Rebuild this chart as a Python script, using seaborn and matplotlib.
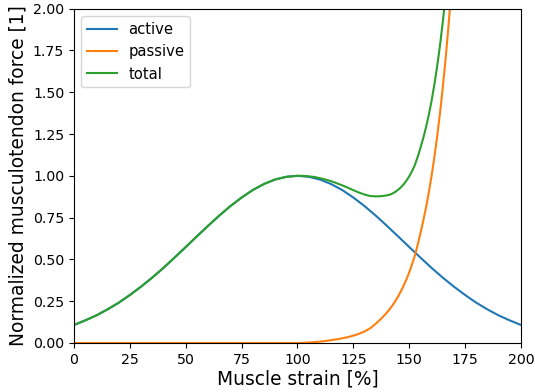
import matplotlib
matplotlib.use("Agg")
import matplotlib.pyplot as plt
import seaborn as sns

# Muscle strain samples [%]
strain_active = [0, 5, 10, 15, 20, 25, 30, 35, 40, 45, 50, 55, 60, 65, 70, 75, 80, 85, 90, 95,
                 100, 105, 110, 115, 120, 125, 130, 135, 140, 145, 150, 155, 160, 165, 170, 175,
                 180, 185, 190, 195, 200]
strain_pt = [0, 5, 10, 15, 20, 25, 30, 35, 40, 45, 50, 55, 60, 65, 70, 75, 80, 85, 90, 95,
             100, 102.5, 105, 107.5, 110, 112.5, 115, 117.5, 120, 122.5, 125, 127.5, 130, 132.5,
             135, 137.5,
             140, 141.25, 142.5, 143.75, 145, 146.25, 147.5, 148.75, 150, 151.25, 152.5, 153.75,
             155, 156.25, 157.5, 158.75, 160, 161.25, 162.5, 163.75, 165, 166.25, 167.5, 168.75,
             170, 171.25, 172.5]

# Normalized force components [1]
active = [0.108, 0.135, 0.165, 0.201, 0.241, 0.287, 0.337, 0.391, 0.449, 0.511, 0.574, 0.638,
          0.701, 0.762, 0.819, 0.870, 0.915, 0.951, 0.978, 0.994, 1.000, 0.994, 0.978, 0.951,
          0.915, 0.870, 0.819, 0.762, 0.701, 0.638, 0.574, 0.511, 0.449, 0.391, 0.337, 0.287,
          0.241, 0.201, 0.165, 0.135, 0.108]
passive = [0.0] * 20 + [0.000, 0.001, 0.003, 0.005, 0.008, 0.012, 0.017, 0.022, 0.028, 0.035,
                        0.044, 0.055, 0.069, 0.088, 0.115, 0.146,
                        0.182, 0.202, 0.225, 0.250, 0.278, 0.309, 0.343, 0.381, 0.423, 0.470,
                        0.522, 0.586, 0.655, 0.730, 0.810, 0.900, 1.000, 1.112, 1.236, 1.374,
                        1.527, 1.697, 1.886, 2.096, 2.330, 2.590, 2.880]
total = [0.108, 0.135, 0.165, 0.201, 0.241, 0.287, 0.337, 0.391, 0.449, 0.511, 0.574, 0.638,
         0.701, 0.762, 0.819, 0.870, 0.915, 0.951, 0.978, 0.994,
         1.000, 1.000, 0.997, 0.993, 0.986, 0.978, 0.968, 0.956, 0.943, 0.929, 0.914, 0.900,
         0.888, 0.879, 0.877, 0.878,
         0.883, 0.887, 0.894, 0.904, 0.916, 0.931, 0.949, 0.971, 0.997, 1.028, 1.064, 1.112,
         1.166, 1.225, 1.290, 1.364, 1.449, 1.546, 1.656, 1.779, 1.918, 2.074, 2.249, 2.446,
         2.667, 2.914, 3.191]

x_ticks = [0, 25, 50, 75, 100, 125, 150, 175, 200]
y_ticks = [0.0, 0.25, 0.5, 0.75, 1.0, 1.25, 1.5, 1.75, 2.0]

fig = plt.figure(figsize=(5.35, 3.92), dpi=100)
ax = fig.add_axes([0.1383, 0.125, 0.8355, 0.853])

sns.lineplot(x=strain_active, y=active, ax=ax, color="C0", label="active", linewidth=1.5)
sns.lineplot(x=strain_pt, y=passive, ax=ax, color="C1", label="passive", linewidth=1.5)
sns.lineplot(x=strain_pt, y=total, ax=ax, color="C2", label="total", linewidth=1.5)

ax.set_xlim(0, 200)
ax.set_ylim(0, 2)
ax.set_xticks(x_ticks)
ax.set_yticks(y_ticks)
ax.set_yticklabels([f"{v:.2f}" for v in y_ticks])
ax.tick_params(labelsize=10.2)
ax.set_xlabel("Muscle strain [%]", fontsize=13.4, labelpad=2)
ax.set_ylabel("Normalized musculotendon force [1]", fontsize=13.4, labelpad=4)
ax.legend(loc="upper left", fontsize=10.6)

fig.savefig("out.png", dpi=100)
